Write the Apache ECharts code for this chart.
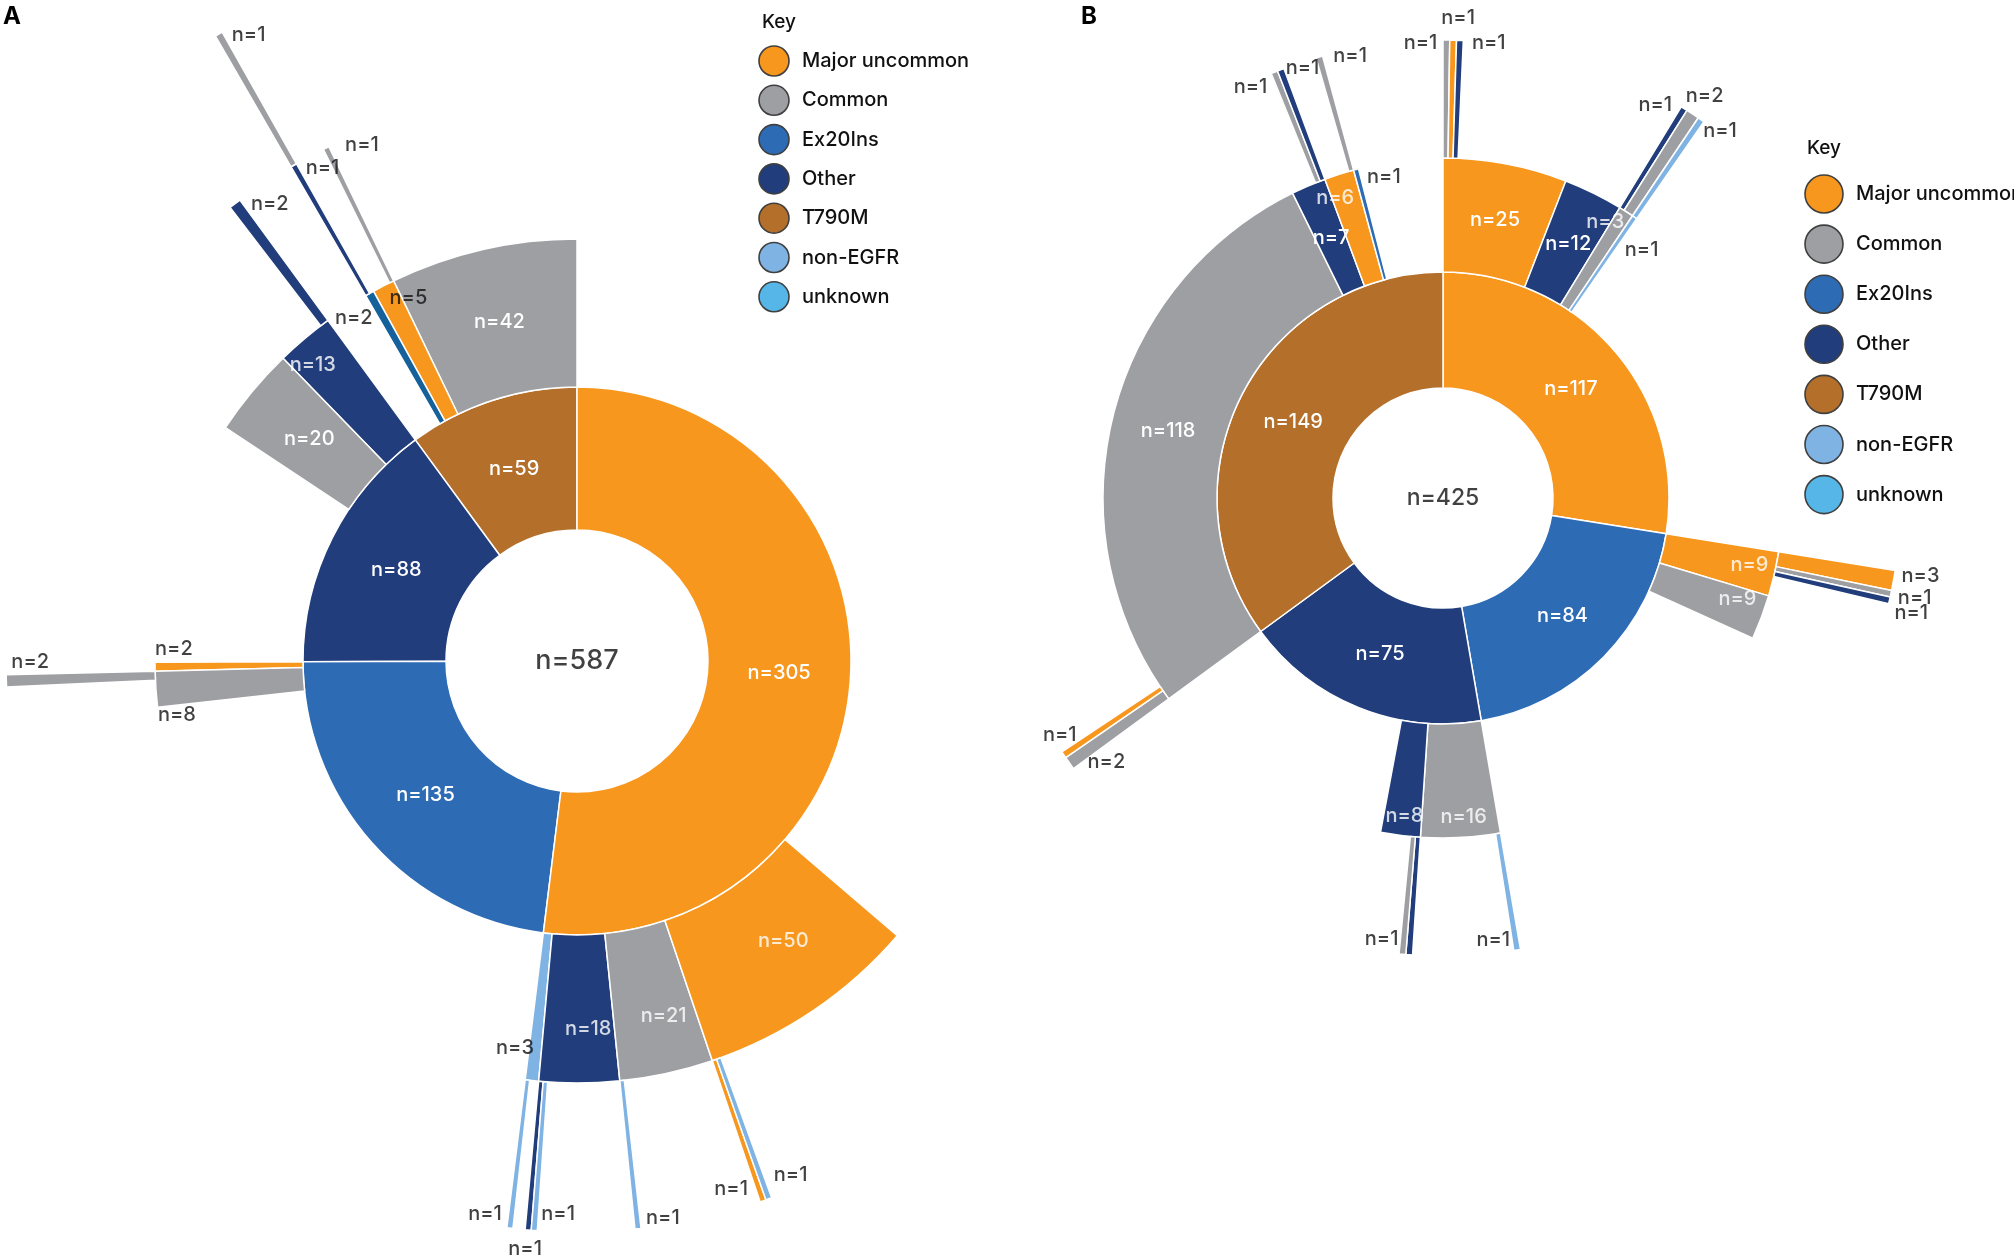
<!DOCTYPE html>
<html>
<head>
<meta charset="utf-8">
<title>EGFR co-mutation sunbursts</title>
<style>
  html, body { margin: 0; padding: 0; background: #ffffff; }
  #chart { width: 2014px; height: 1255px; }
</style>
<script src="https://cdn.jsdelivr.net/npm/echarts@6.0.0/dist/echarts.min.js"></script>
</head>
<body>
<div id="chart"></div>
<script type="text/javascript">
// key
const categoryCodes = ['MU', 'C', 'EX', 'O', 'T', 'NE', 'U'];
const categoryNames = ['Major uncommon', 'Common', 'Ex20Ins', 'Other', 'T790M', 'non-EGFR', 'unknown'];
const categoryColors = ['#F7971E', '#9E9FA3', '#2D6BB5', '#213D7B', '#B46F2A', '#7FB3E3', '#56B6E8'];
// 'EXT' is the darker blue slice under T790M in panel A (not in the key)
const extraColors = { EXT: '#14619B' };

// [path, n]  path = mutation classes from the centre outwards, '-' = nothing further
// panel A is drawn counter-clockwise, panel B clockwise, children from the parent's start
const segmentsA = [
  ['T', 59],
  ['T/C', 42],
  ['T/MU', 5],
  ['T/MU/C', 1],
  ['T/EXT', 2],
  ['T/EXT/-', 1],
  ['T/EXT/O', 1],
  ['T/EXT/O/C', 1],
  ['O', 88],
  ['O/O', 13],
  ['O/O/O', 2],
  ['O/C', 20],
  ['EX', 135],
  ['EX/MU', 2],
  ['EX/C', 8],
  ['EX/C/C', 2],
  ['MU', 305],
  ['MU/NE', 3],
  ['MU/NE/NE', 1],
  ['MU/O', 18],
  ['MU/O/O', 1],
  ['MU/O/NE', 1],
  ['MU/C', 21],
  ['MU/C/NE', 1],
  ['MU/MU', 50],
  ['MU/MU/MU', 1],
  ['MU/MU/NE', 1]
];

const segmentsB = [
  ['MU', 117],
  ['MU/MU', 25],
  ['MU/MU/C', 1],
  ['MU/MU/MU', 1],
  ['MU/MU/O', 1],
  ['MU/O', 12],
  ['MU/C', 3],
  ['MU/C/O', 1],
  ['MU/C/C', 2],
  ['MU/NE', 1],
  ['MU/NE/NE', 1],
  ['EX', 84],
  ['EX/MU', 9],
  ['EX/MU/MU', 3],
  ['EX/MU/C', 1],
  ['EX/MU/O', 1],
  ['EX/C', 9],
  ['O', 75],
  ['O/C', 16],
  ['O/C/NE', 1],
  ['O/O', 8],
  ['O/O/O', 1],
  ['O/O/C', 1],
  ['T', 149],
  ['T/C', 118],
  ['T/C/C', 2],
  ['T/C/MU', 1],
  ['T/O', 7],
  ['T/O/-', 5],
  ['T/O/C', 1],
  ['T/O/O', 1],
  ['T/MU', 6],
  ['T/MU/-', 5],
  ['T/MU/C', 1],
  ['T/EX', 1]
];

// label placement for slices whose label is not centred: [side, dx, dy] from the slice's outer tip
const labelSpotA = {
  'T/MU': ['se', 6, 2], 'T/EXT': ['sw', 3, 14], 'T/MU/C': ['e', 19, -3],
  'T/EXT/O': ['e', 12, 3], 'T/EXT/O/C': ['e', 13, 1],
  'O/O': ['c', 8, 26], 'O/O/O': ['e', 16, 0],
  'EX/MU': ['ne', 0, -8], 'EX/C': ['se', 2, 16], 'EX/C/C': ['ne', 5, -9],
  'MU/NE': ['w', 2, -33], 'MU/NE/NE': ['nw', -8, -4],
  'MU/O': ['c', 9, -54], 'MU/O/O': ['s', -3, 9], 'MU/O/NE': ['ne', 7, -6],
  'MU/C': ['c', -3, -57], 'MU/C/NE': ['ne', 8, -1],
  'MU/MU': ['c', -30, -70],
  'MU/MU/MU': ['nw', -15, -2], 'MU/MU/NE': ['ne', 5, -14]
};
const labelSpotB = {
  'MU/MU/C': ['w', -9, 3], 'MU/MU/MU': ['n', 5, -12], 'MU/MU/O': ['e', 12, 3],
  'MU/C': ['c', -21, 10], 'MU/C/O': ['w', -12, -4], 'MU/C/C': ['n', 12, -8],
  'MU/NE': ['s', 7, 23], 'MU/NE/NE': ['e', 2, 11],
  'EX/MU': ['c', -25, -9], 'EX/C': ['c', -24, -18],
  'EX/MU/MU': ['e', 8, -5], 'EX/MU/C': ['e', 7, 4], 'EX/MU/O': ['e', 5, 13],
  'O/C': ['c', 3, -21], 'O/C/NE': ['w', -7, -10],
  'O/O': ['c', 4, -19], 'O/O/O': ['none'], 'O/O/C': ['w', -4, -15],
  'T/C/C': ['e', 18, -1], 'T/C/MU': ['n', -4, -10],
  'T/O/C': ['sw', -7, 5], 'T/O/O': ['e', 5, -2],
  'T/MU': ['c', -4, 24], 'T/MU/C': ['e', 14, -1], 'T/EX': ['e', 11, 8]
};

const FONT = "Inter, 'Noto Sans', sans-serif";
const SIDES = {
  e: ['left', 'middle'], w: ['right', 'middle'], n: ['center', 'bottom'], s: ['center', 'top'],
  ne: ['left', 'bottom'], nw: ['right', 'bottom'], se: ['left', 'top'], sw: ['right', 'top'],
  c: ['center', 'middle']
};

// geometry of the two panels (px)
const panelA = { cx: 577, cy: 661, rings: [131, 274, 422, 571, 722], clockwise: false, centreFont: 27 };
const panelB = { cx: 1443, cy: 498, rings: [110, 226, 340, 458], clockwise: true, centreFont: 23 };

function colorOf(code) {
  if (extraColors[code]) return extraColors[code];
  return categoryColors[categoryCodes.indexOf(code)];
}

function buildPanel(rows, spots, geo) {
  const roots = [];
  const byPath = {};
  rows.forEach(function (row) {
    const path = row[0];
    const parts = path.split('/');
    const code = parts[parts.length - 1];
    const blank = code === '-';
    const node = {
      name: path,
      value: row[1],
      itemStyle: blank ? { color: 'rgba(0,0,0,0)', borderWidth: 0 } : { color: colorOf(code) },
      label: { show: !blank && !spots[path] }
    };
    const parentPath = parts.slice(0, -1).join('/');
    if (parentPath) {
      const parent = byPath[parentPath];
      (parent.children = parent.children || []).push(node);
    } else {
      roots.push(node);
    }
    byPath[path] = node;
  });

  // outside / shifted labels, placed on the polar system that shares the sunburst's geometry
  const labels = [];
  let total = 0;
  roots.forEach(function (n) { total += n.value; });
  function walk(list, start, depth) {
    let acc = start;
    list.forEach(function (node) {
      const spot = spots[node.name];
      if (spot && spot[0] !== 'none') {
        const side = SIDES[spot[0]];
        labels.push({
          value: [geo.rings[depth], acc + node.value / 2],
          label: {
            formatter: 'n=' + node.value,
            align: side[0], verticalAlign: side[1],
            offset: [spot[1], spot[2]],
            color: spot[0] === 'c' ? '#ffffff' : '#111111'
          }
        });
      }
      if (node.children) walk(node.children, acc, depth + 1);
      acc += node.value;
    });
  }
  walk(roots, 0, 1);
  labels.push({
    value: [0, 0],
    label: { formatter: 'n=' + total, fontSize: geo.centreFont, color: '#111111' }
  });
  return { roots: roots, labels: labels, total: total };
}

const A = buildPanel(segmentsA, labelSpotA, panelA);
const B = buildPanel(segmentsB, labelSpotB, panelB);

function sunburst(geo, data) {
  const levels = [{}];
  for (let i = 1; i < geo.rings.length; i++) {
    levels.push({ r0: geo.rings[i - 1], r: geo.rings[i] });
  }
  return {
    type: 'sunburst',
    center: [geo.cx, geo.cy],
    radius: [geo.rings[0], geo.rings[geo.rings.length - 1]],
    startAngle: 90,
    clockwise: geo.clockwise,
    sort: null,
    nodeClick: false,
    levels: levels,
    itemStyle: { borderColor: '#ffffff', borderWidth: 1.5 },
    label: {
      rotate: 0, color: '#ffffff', fontSize: 20, fontWeight: 500, fontFamily: FONT,
      formatter: function (p) { return 'n=' + p.value; }
    },
    emphasis: { focus: 'none' },
    data: data
  };
}

function labelSeries(index, data) {
  return {
    type: 'scatter',
    coordinateSystem: 'polar',
    polarIndex: index,
    symbolSize: 1,
    silent: true,
    itemStyle: { color: 'rgba(0,0,0,0)' },
    label: { show: true, position: 'inside', fontSize: 20, fontWeight: 500, fontFamily: FONT },
    data: data
  };
}

function keyGraphic(x, y, step, r, textX, titleX, titleY) {
  const els = [{
    type: 'text', x: titleX, y: titleY,
    style: { text: 'Key', fill: '#111111', font: '500 19px ' + FONT, verticalAlign: 'middle' }
  }];
  categoryNames.forEach(function (name, i) {
    els.push({
      type: 'circle', shape: { cx: x, cy: y + i * step, r: r },
      style: { fill: categoryColors[i], stroke: '#3f3f3f', lineWidth: 1.6 }
    });
    els.push({
      type: 'text', x: textX, y: y + i * step,
      style: { text: name, fill: '#111111', font: '500 20px ' + FONT, verticalAlign: 'middle' }
    });
  });
  return els;
}

const chart = echarts.init(document.getElementById('chart'));
const option = {
  animation: false,
  backgroundColor: '#ffffff',
  polar: [
    { center: [panelA.cx, panelA.cy], radius: panelA.rings[panelA.rings.length - 1] },
    { center: [panelB.cx, panelB.cy], radius: panelB.rings[panelB.rings.length - 1] }
  ],
  angleAxis: [
    { polarIndex: 0, type: 'value', min: 0, max: A.total, startAngle: 90, clockwise: panelA.clockwise, show: false },
    { polarIndex: 1, type: 'value', min: 0, max: B.total, startAngle: 90, clockwise: panelB.clockwise, show: false }
  ],
  radiusAxis: [
    { polarIndex: 0, type: 'value', min: 0, max: panelA.rings[panelA.rings.length - 1], show: false },
    { polarIndex: 1, type: 'value', min: 0, max: panelB.rings[panelB.rings.length - 1], show: false }
  ],
  graphic: [
    { type: 'text', x: 3, y: 5, style: { text: 'A', fill: '#000', font: 'bold 24px ' + FONT } },
    { type: 'text', x: 1081, y: 5, style: { text: 'B', fill: '#000', font: 'bold 24px ' + FONT } }
  ].concat(keyGraphic(774, 61, 39.3, 15, 802, 762, 22))
   .concat(keyGraphic(1824, 194, 50.1, 19, 1856, 1807, 148)),
  series: [
    sunburst(panelA, A.roots),
    sunburst(panelB, B.roots),
    labelSeries(0, A.labels),
    labelSeries(1, B.labels)
  ]
};
chart.setOption(option);
window.addEventListener('resize', function () {
  chart.resize();
});
</script>
</body>
</html>
